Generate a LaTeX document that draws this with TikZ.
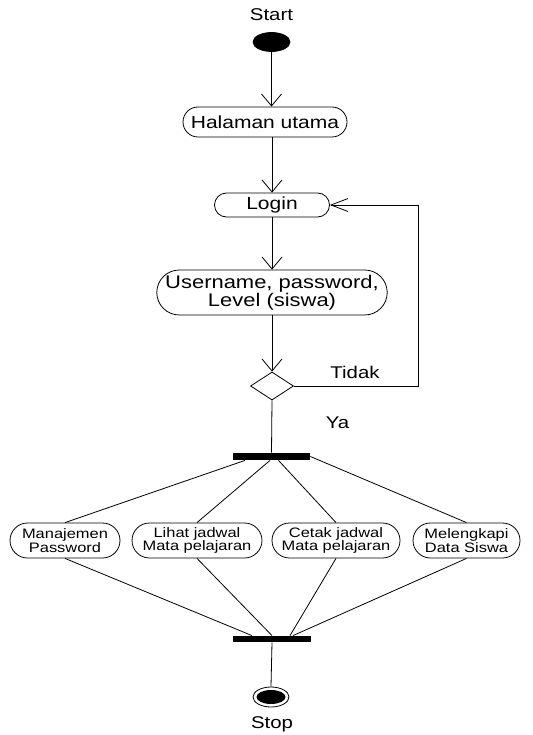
\documentclass[tikz,border=0pt]{standalone}
\usepackage{fontspec}
\setmainfont{Liberation Sans}[FakeStretch=1.2]
\usetikzlibrary{shapes.misc,shapes.geometric,arrows.meta,calc}
\begin{document}
\begin{tikzpicture}[x=1pt,y=-1pt,
  line width=0.8pt,
  vbarb/.style={-{Straight Barb[length=12pt,width=20pt,line width=0.8pt]}},
  hbarb/.style={-{Straight Barb[length=17pt,width=13pt,line width=0.8pt]}},
  act/.style={rounded rectangle,draw,inner sep=0pt,align=center,font=\fontsize{17.5}{16}\selectfont},
  sact/.style={rounded rectangle,draw,inner sep=0pt,align=center,minimum height=35pt,font=\fontsize{13.7}{12.5}\selectfont},
  bar/.style={rectangle,fill=black,inner sep=0pt},
  lbl/.style={inner sep=0pt,font=\fontsize{17}{16}\selectfont}]
\useasboundingbox (0,0) rectangle (532,735);

\node[lbl] (tstart) at (271.5,15) {Start};
\node[ellipse,fill=black,draw,minimum width=37pt,minimum height=19pt,inner sep=0pt] (start) at (271.5,42) {};

\node[act,minimum width=164pt,minimum height=30pt] (hal) at (265,122) {Halaman utama};
\node[act,minimum width=115pt,minimum height=24pt] (login) at (272,205) {Login};
\node[act,minimum width=230pt,minimum height=45pt,font=\fontsize{18.3}{16}\selectfont] (user) at (272,292.5) {Username, password,\\Level (siswa)};
\node[diamond,draw,inner sep=0pt,minimum width=43pt,minimum height=28pt,shape aspect=1.54] (dec) at (272,386) {};

\node[lbl] (tidak) at (355,372) {Tidak};
\node[lbl] (ya) at (337.5,423) {Ya};

\node[bar,minimum width=77pt,minimum height=7pt] (fork) at (271.5,456.5) {};

\node[sact,minimum width=110pt] (man) at (65,540.5) {Manajemen\\Password};
\node[sact,minimum width=130pt] (lihat) at (197,540.5) {Lihat jadwal\\Mata pelajaran};
\node[sact,minimum width=128pt] (cetak) at (336,540.5) {Cetak jadwal\\Mata pelajaran};
\node[sact,minimum width=107pt] (mel) at (466.5,540.5) {Melengkapi\\Data Siswa};

\node[bar,minimum width=78pt,minimum height=6pt] (join) at (272,639) {};

\node[ellipse,draw,minimum width=36pt,minimum height=20pt,inner sep=0pt] (stop) at (271,697) {};
\node[ellipse,fill=black,minimum width=29pt,minimum height=14pt,inner sep=0pt] (stopin) at (stop.center) {};
\node[lbl] (tstop) at (272,724) {Stop};

\coordinate (rside) at (418,0);

% connectors
\draw[vbarb] (start.south) -- (start.south |- hal.north);
\draw[vbarb] (login.north |- hal.south) -- (login.north);
\draw[vbarb] (login.south) -- (user.north);
\draw[vbarb] (user.south) -- (dec.north);
\draw[hbarb] (dec.east) -- (dec.east -| rside) |- (login.east);
\draw (dec.south) -- (fork.north);

\draw ($(fork.south)+(-26.5,0)$) -- (man.north);
\draw ($(fork.south)+(-1.5,0)$) -- (lihat.north);
\draw ($(fork.south)+(7,0)$) -- (cetak.north);
\draw (fork.east) -- (mel.north);

\draw (man.south) -- ($(join.north)+(-20,0)$);
\draw (lihat.south) -- (join.north);
\draw (cetak.south) -- ($(join.north)+(18,0)$);
\draw (mel.south) -- ($(join.north)+(21,0)$);

\draw (join.south) -- (stop.north);
\end{tikzpicture}
\end{document}
